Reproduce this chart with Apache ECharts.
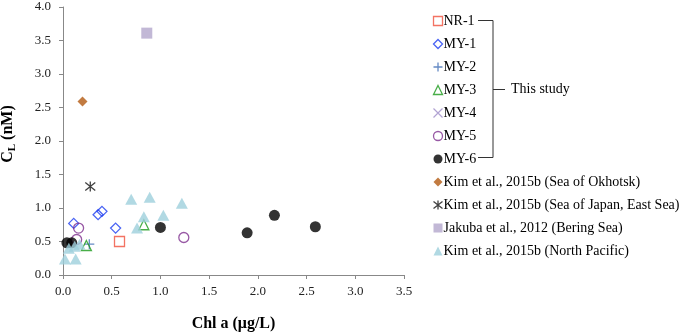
<!DOCTYPE html>
<html>
<head>
<meta charset="utf-8">
<script src="https://cdn.jsdelivr.net/npm/echarts@6/dist/echarts.min.js"></script>
<style>
  html, body { margin: 0; padding: 0; background: #fff; }
  #chart { width: 680px; height: 336px; }
</style>
</head>
<body>
<div id="chart"></div>
<script>
// [chl a, CL] pairs
const nr1 = [[0.58, 0.50]]
const my1 = [[0.11, 0.77], [0.36, 0.90], [0.40, 0.95], [0.54, 0.70]]
const my2 = [[0.27, 0.46]]
const my3 = [[0.24, 0.44], [0.83, 0.75]]
const my4 = []
const my5 = [[0.16, 0.70], [0.14, 0.53], [1.24, 0.56]]
const my6 = [[0.04, 0.48], [0.09, 0.48], [1.00, 0.71], [1.89, 0.63], [2.17, 0.89], [2.59, 0.72]]
const okhotsk = [[0.20, 2.59]]
const japanSea = [[0.28, 1.32]]
const bering = [[0.86, 3.61]]
const northPacific = [
  [0.70, 1.13], [0.89, 1.16], [1.22, 1.07], [1.03, 0.89], [0.83, 0.87], [0.76, 0.70],
  [0.02, 0.24], [0.13, 0.24], [0.06, 0.40], [0.12, 0.43], [0.17, 0.46]
]
const xTicks = [0, 0.5, 1.0, 1.5, 2.0, 2.5, 3.0, 3.5]
const yTicks = [0, 0.5, 1.0, 1.5, 2.0, 2.5, 3.0, 3.5, 4.0]

const serif = "'Liberation Serif', 'Times New Roman', serif"
const plusPath = 'path://M5,0L5,10M0,5L10,5'
const crossPath = 'path://M0,0L10,10M10,0L0,10'
const starPath = 'path://M0,1L10,9M10,1L0,9M5,0L5,10'

const seriesDefs = [
  { name: 'NR-1', data: nr1, symbol: 'rect', size: 10, style: { color: 'rgba(255,255,255,0)', borderColor: '#f0503c', borderWidth: 1.3 } },
  { name: 'MY-1', data: my1, symbol: 'diamond', size: 10, style: { color: 'rgba(255,255,255,0)', borderColor: '#1c3cf0', borderWidth: 1.3 } },
  { name: 'MY-2', data: my2, symbol: plusPath, size: 10, style: { color: 'none', borderColor: '#3f6db5', borderWidth: 1.3 } },
  { name: 'MY-3', data: my3, symbol: 'triangle', size: 10, style: { color: 'rgba(255,255,255,0)', borderColor: '#1a9a1a', borderWidth: 1.3 } },
  { name: 'MY-4', data: my4, symbol: crossPath, size: 9, style: { color: 'none', borderColor: '#9d8cc8', borderWidth: 1.2 } },
  { name: 'MY-5', data: my5, symbol: 'circle', size: 10, style: { color: 'rgba(255,255,255,0)', borderColor: '#7e2f8e', borderWidth: 1.3 } },
  { name: 'MY-6', data: my6, symbol: 'circle', size: 11, style: { color: '#000' } },
  { name: 'Kim et al., 2015b (Sea of Okhotsk)', data: okhotsk, symbol: 'diamond', size: 10, style: { color: '#b35a12' } },
  { name: 'Kim et al., 2015b (Sea of Japan, East Sea)', data: japanSea, symbol: starPath, size: 10, style: { color: 'none', borderColor: '#111', borderWidth: 1.3 } },
  { name: 'Jakuba et al., 2012 (Bering Sea)', data: bering, symbol: 'rect', size: 11, style: { color: '#b3a6cc' } },
  { name: 'Kim et al., 2015b (North Pacific)', data: northPacific, symbol: 'triangle', size: [12, 11], style: { color: '#9ecfdc' } }
]

const chart = echarts.init(document.getElementById('chart'))

chart.setOption({
  animation: false,
  backgroundColor: '#fff',
  grid: { left: 63, right: 276, top: 7, bottom: 61, outerBoundsMode: 'none', containLabel: false },
  xAxis: {
    type: 'value',
    min: 0,
    max: 3.5,
    interval: 0.5,
    name: 'Chl a (μg/L)',
    nameLocation: 'middle',
    nameGap: 41,
    nameTextStyle: { fontFamily: serif, fontSize: 16, fontWeight: 'bold', color: '#000' },
    axisLine: { lineStyle: { color: '#888', width: 1 } },
    axisTick: { show: true, length: 4, lineStyle: { color: '#888' } },
    axisLabel: {
      margin: 10,
      fontFamily: serif, fontSize: 13, color: '#222',
      formatter: v => xTicks.includes(v) ? v.toFixed(1) : ''
    },
    splitLine: { show: false }
  },
  yAxis: {
    type: 'value',
    min: 0,
    max: 4,
    interval: 0.5,
    name: '{c|C}{s|L}{c| (nM)}',
    nameLocation: 'middle',
    nameRotate: 90,
    nameGap: 45,
    nameTextStyle: {
      padding: [0, 0, 0, 14],
      rich: {
        c: { fontFamily: serif, fontSize: 16, fontWeight: 'bold', color: '#000' },
        s: { fontFamily: serif, fontSize: 11, fontWeight: 'bold', color: '#000', verticalAlign: 'bottom', padding: [9, 0, 0, 0] }
      }
    },
    axisLine: { show: true, lineStyle: { color: '#888', width: 1 } },
    axisTick: { show: true, length: 4, lineStyle: { color: '#888' } },
    axisLabel: {
      margin: 12,
      fontFamily: serif, fontSize: 13, color: '#222',
      formatter: v => yTicks.includes(v) ? v.toFixed(1) : ''
    },
    splitLine: { show: false }
  },
  legend: {
    orient: 'vertical',
    left: 426,
    top: 9,
    itemWidth: 9,
    itemHeight: 9,
    itemGap: 9,
    selectedMode: false,
    textStyle: { fontFamily: serif, fontSize: 14, color: '#000', lineHeight: 14, padding: [0, 0, 0, -4] },
    data: seriesDefs.map(d => ({ name: d.name, icon: d.symbol, itemStyle: d.style }))
  },
  graphic: [
    { type: 'polyline', shape: { points: [[478, 20.5], [493, 20.5], [493, 157.5], [478, 157.5]] }, style: { stroke: '#333', lineWidth: 1, fill: null } },
    { type: 'line', shape: { x1: 493, y1: 89.5, x2: 505, y2: 89.5 }, style: { stroke: '#333', lineWidth: 1 } },
    { type: 'text', left: 511, top: 82, style: { text: 'This study', fontFamily: serif, fontSize: 14, fill: '#000' } }
  ],
  series: seriesDefs.map(d => ({
    name: d.name,
    type: 'scatter',
    data: d.data,
    symbol: d.symbol,
    symbolSize: d.size,
    itemStyle: d.style,
    emphasis: { disabled: true }
  }))
})
</script>
</body>
</html>
